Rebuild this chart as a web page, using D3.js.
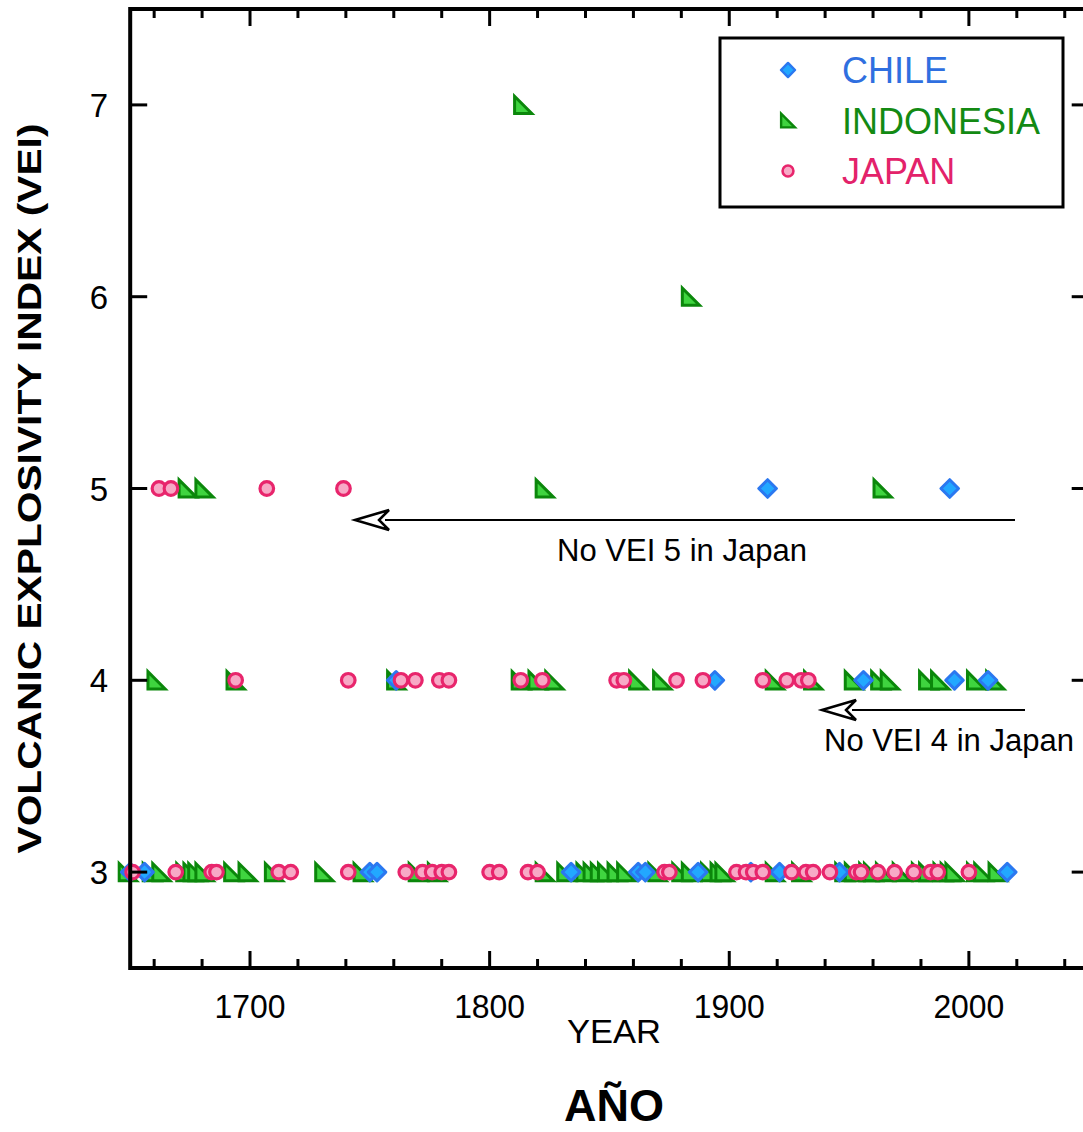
<!DOCTYPE html>
<html>
<head>
<meta charset="utf-8">
<script src="https://cdn.jsdelivr.net/npm/d3@7"></script>
<style>
  body { margin: 0; background: #fff; }
  svg { display: block; }
</style>
</head>
<body>
<svg id="chart"></svg>
<script>
"use strict";

// years of eruptions, grouped by VEI
const chile_vei3 = [1650, 1656, 1750, 1753, 1834, 1862, 1865, 1887, 1909, 1921, 1946, 2016];
const chile_vei4 = [1761, 1894, 1956, 1994, 2008];
const chile_vei5 = [1916, 1992];

const indonesia_vei3 = [1649, 1659, 1663, 1673, 1676, 1678, 1681, 1693, 1699, 1710, 1731, 1747, 1770, 1778,
    1823, 1832, 1840, 1843, 1846, 1849, 1853, 1857, 1870, 1880, 1884, 1892, 1896, 1898, 1919, 1930,
    1948, 1952, 1958, 1960, 1965, 1972, 1980, 1983, 1989, 1992, 1994, 2003, 2006, 2012];
const indonesia_vei4 = [1661, 1694, 1761, 1813, 1820, 1827, 1862, 1872, 1919, 1935, 1952, 1963, 1967, 1983, 1988, 2003, 2011];
const indonesia_vei5 = [1674, 1681, 1823, 1964];
const indonesia_vei6 = [1884];
const indonesia_vei7 = [1814];

const japan_vei3 = [1651, 1669, 1684, 1686, 1712, 1717, 1741, 1765, 1772, 1776, 1780, 1783, 1800, 1804,
    1816, 1820, 1873, 1875, 1903, 1907, 1910, 1914, 1926, 1932, 1935, 1942, 1953, 1955, 1962, 1969,
    1977, 1984, 1987, 2000];
const japan_vei4 = [1694, 1741, 1763, 1769, 1779, 1783, 1813, 1822, 1853, 1856, 1878, 1889, 1914, 1924, 1930, 1933];
const japan_vei5 = [1662, 1667, 1707, 1739];

const countries = ["CHILE", "INDONESIA", "JAPAN"];
const x_ticks = [1700, 1800, 1900, 2000];
const y_ticks = [3, 4, 5, 6, 7];

const WIDTH = 1083;
const HEIGHT = 1132;

const svg = d3.select("#chart")
    .attr("width", WIDTH)
    .attr("height", HEIGHT);

const xScale = d3.scaleLinear().domain([1650, 2050]).range([130.2, 1088.7]);
const yScale = d3.scaleLinear().domain([2.5, 7.5]).range([968, 9]);

function to_points(years, vei) {
    return years.map(y => ({ year: y, vei: vei }));
}

const chile = [].concat(to_points(chile_vei3, 3), to_points(chile_vei4, 4), to_points(chile_vei5, 5));
const indonesia = [].concat(to_points(indonesia_vei3, 3), to_points(indonesia_vei4, 4), to_points(indonesia_vei5, 5),
    to_points(indonesia_vei6, 6), to_points(indonesia_vei7, 7));
const japan = [].concat(to_points(japan_vei3, 3), to_points(japan_vei4, 4), to_points(japan_vei5, 5));

const styles = {
    CHILE: { stroke: "#2b78f0", fill: "#22a8ff", text: "#2f6fe0" },
    INDONESIA: { stroke: "#0b870b", fill: "#3fd43f", text: "#138a13" },
    JAPAN: { stroke: "#e8256c", fill: "#f7a9c6", text: "#e3226a" }
};

function diamond(s) {
    return `M0,${-s}L${s},0L0,${s}L${-s},0Z`;
}
function triangle(s) {
    return `M${-s},${-s}L${-s},${s}L${s},${s}Z`;
}

function draw_marker(g, name, cx, cy, scale = 1) {
    const st = styles[name];
    if (name === "CHILE") {
        g.append("path")
            .attr("d", diamond(8.8 * scale))
            .attr("transform", `translate(${cx},${cy})`)
            .attr("fill", st.fill)
            .attr("stroke", st.stroke)
            .attr("stroke-width", 3 * scale)
            .attr("stroke-linejoin", "round");
    } else if (name === "INDONESIA") {
        g.append("path")
            .attr("d", triangle(8.6 * scale))
            .attr("transform", `translate(${cx},${cy})`)
            .attr("fill", st.fill)
            .attr("stroke", st.stroke)
            .attr("stroke-width", 3 * scale)
            .attr("stroke-linejoin", "miter");
    } else {
        g.append("circle")
            .attr("cx", cx)
            .attr("cy", cy)
            .attr("r", 6.8 * scale)
            .attr("fill", st.fill)
            .attr("stroke", st.stroke)
            .attr("stroke-width", 3.2 * scale);
    }
}

const g_points = svg.append("g");
for (let p of indonesia) draw_marker(g_points, "INDONESIA", xScale(p.year), yScale(p.vei));
for (let p of chile) draw_marker(g_points, "CHILE", xScale(p.year), yScale(p.vei));
for (let p of japan) draw_marker(g_points, "JAPAN", xScale(p.year), yScale(p.vei));

// frame with inward ticks on all four sides
const x0 = xScale(1650), x1 = xScale(2050);
const y0 = yScale(2.5), y1 = yScale(7.5);
const minor_years = d3.range(1660, 2050, 20).filter(y => y % 100 !== 0);

const g_axes = svg.append("g")
    .attr("stroke", "#000")
    .attr("fill", "none");

g_axes.append("rect")
    .attr("x", x0)
    .attr("y", y1)
    .attr("width", x1 - x0)
    .attr("height", y0 - y1)
    .attr("stroke-width", 4);

for (let yr of x_ticks) {
    g_axes.append("line").attr("x1", xScale(yr)).attr("x2", xScale(yr)).attr("y1", y0).attr("y2", y0 - 17).attr("stroke-width", 3);
    g_axes.append("line").attr("x1", xScale(yr)).attr("x2", xScale(yr)).attr("y1", y1).attr("y2", y1 + 17).attr("stroke-width", 3);
}
for (let yr of minor_years) {
    g_axes.append("line").attr("x1", xScale(yr)).attr("x2", xScale(yr)).attr("y1", y0).attr("y2", y0 - 9).attr("stroke-width", 3);
    g_axes.append("line").attr("x1", xScale(yr)).attr("x2", xScale(yr)).attr("y1", y1).attr("y2", y1 + 9).attr("stroke-width", 3);
}
for (let v of y_ticks) {
    g_axes.append("line").attr("x1", x0).attr("x2", x0 + 17).attr("y1", yScale(v)).attr("y2", yScale(v)).attr("stroke-width", 3);
    g_axes.append("line").attr("x1", x1).attr("x2", x1 - 17).attr("y1", yScale(v)).attr("y2", yScale(v)).attr("stroke-width", 3);
}

// tick labels
svg.append("g")
    .selectAll("text")
    .data(x_ticks)
    .join("text")
    .attr("x", d => xScale(d))
    .attr("y", 1018)
    .attr("text-anchor", "middle")
    .attr("font-family", "'Liberation Sans Narrow', 'Arial Narrow', 'Liberation Sans', sans-serif")
    .attr("font-size", 34)
    .attr("textLength", 71)
    .attr("lengthAdjust", "spacingAndGlyphs")
    .text(d => d);

svg.append("g")
    .selectAll("text")
    .data(y_ticks)
    .join("text")
    .attr("x", 108)
    .attr("y", d => yScale(d) + 12)
    .attr("text-anchor", "end")
    .attr("font-family", "'Liberation Sans', Arial, sans-serif")
    .attr("font-size", 33)
    .text(d => d);

// axis titles
svg.append("text")
    .attr("x", 614)
    .attr("y", 1043)
    .attr("text-anchor", "middle")
    .attr("font-family", "'Liberation Sans Narrow', 'Arial Narrow', 'Liberation Sans', sans-serif")
    .attr("font-size", 34)
    .attr("textLength", 94)
    .attr("lengthAdjust", "spacingAndGlyphs")
    .text("YEAR");

svg.append("text")
    .attr("transform", `translate(41,${yScale(5)}) rotate(-90)`)
    .attr("text-anchor", "middle")
    .attr("font-family", "'Liberation Sans', Arial, sans-serif")
    .attr("font-weight", "bold")
    .attr("font-size", 33)
    .attr("textLength", 730)
    .attr("lengthAdjust", "spacingAndGlyphs")
    .text("VOLCANIC EXPLOSIVITY INDEX (VEI)");

svg.append("text")
    .attr("x", 614)
    .attr("y", 1121)
    .attr("text-anchor", "middle")
    .attr("font-family", "'Liberation Sans', Arial, sans-serif")
    .attr("font-weight", "bold")
    .attr("font-size", 45)
    .text("AÑO");

// legend
const legend = svg.append("g");
legend.append("rect")
    .attr("x", 720)
    .attr("y", 38)
    .attr("width", 343)
    .attr("height", 169)
    .attr("fill", "#fff")
    .attr("stroke", "#000")
    .attr("stroke-width", 3);
countries.forEach((c, i) => {
    const cy = 70 + i * 50.5;
    draw_marker(legend, c, 788, cy, 0.8);
    legend.append("text")
        .attr("x", 842)
        .attr("y", cy + 13)
        .attr("font-family", "'Liberation Sans', Arial, sans-serif")
        .attr("font-size", 36)
        .attr("fill", styles[c].text)
        .text(c);
});

// annotations with open arrow heads
function annotate(xa, xb, ya, label, lx, ly, anchor) {
    const g = svg.append("g");
    g.append("line")
        .attr("x1", xb).attr("x2", xa + 30)
        .attr("y1", ya).attr("y2", ya)
        .attr("stroke", "#000")
        .attr("stroke-width", 2);
    g.append("path")
        .attr("d", `M${xa},${ya}L${xa + 34},${ya - 10}L${xa + 24},${ya}L${xa + 34},${ya + 10}Z`)
        .attr("fill", "#fff")
        .attr("stroke", "#000")
        .attr("stroke-width", 2.5)
        .attr("stroke-linejoin", "miter");
    g.append("text")
        .attr("x", lx)
        .attr("y", ly)
        .attr("text-anchor", anchor)
        .attr("font-family", "'Liberation Sans', Arial, sans-serif")
        .attr("font-size", 31)
        .text(label);
}
annotate(355, 1015, 520, "No VEI 5 in Japan", 682, 561, "middle");
annotate(822, 1025, 710, "No VEI 4 in Japan", 824, 751, "start");
</script>
</body>
</html>
